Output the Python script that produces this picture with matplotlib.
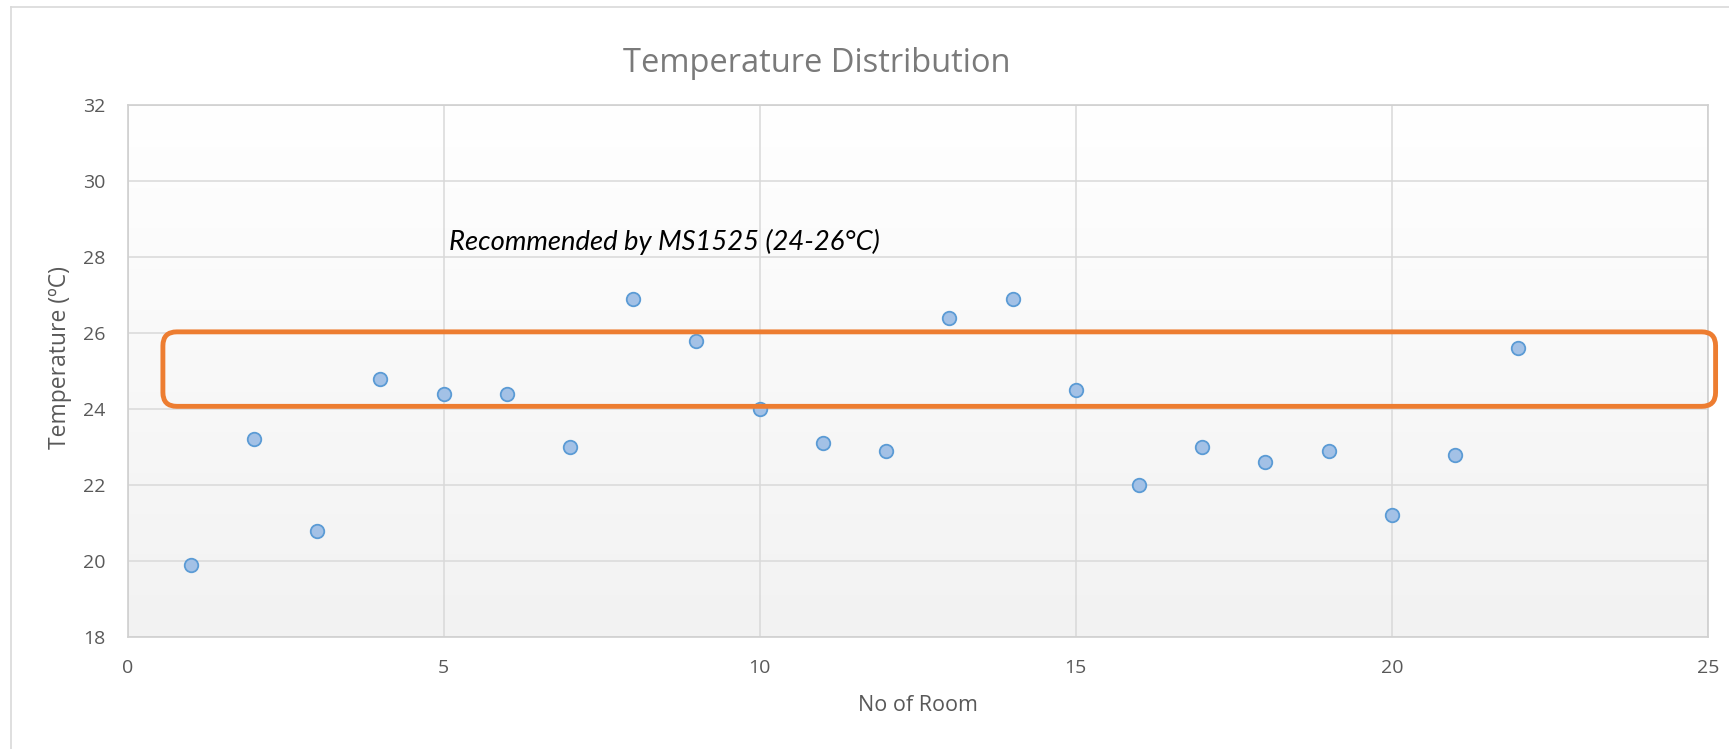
import numpy as np
import matplotlib
matplotlib.use("Agg")
import matplotlib.pyplot as plt
from matplotlib.colors import LinearSegmentedColormap
from matplotlib.patches import FancyBboxPatch
from matplotlib.lines import Line2D

# data
rooms = [1, 2, 3, 4, 5, 6, 7, 8, 9, 10, 11, 12, 13, 14, 15, 16, 17, 18, 19, 20, 21, 22]
temps = [19.9, 23.2, 20.8, 24.8, 24.4, 24.4, 23.0, 26.9, 25.8, 24.0, 23.1,
         22.9, 26.4, 26.9, 24.5, 22.0, 23.0, 22.6, 22.9, 21.2, 22.8, 25.6]
band_low, band_high = 24.07, 26.03
x_ticks = [0, 5, 10, 15, 20, 25]
y_ticks = [18, 20, 22, 24, 26, 28, 30, 32]

plt.rcParams['font.family'] = ['Open Sans', 'DejaVu Sans']

W, H = 1729, 749
fig = plt.figure(figsize=(W / 100, H / 100), dpi=100)

# outer chart frame (only top/left visible in the crop)
fig.add_artist(Line2D([11 / W, 11 / W], [0, 1 - 7 / H], color='#d9d9d9', lw=1.2))
fig.add_artist(Line2D([11 / W, 1], [1 - 7 / H, 1 - 7 / H], color='#d9d9d9', lw=1.2))

left, right, top, bottom = 127.5, 1708, 105, 637
ax = fig.add_axes([left / W, 1 - bottom / H, (right - left) / W, (bottom - top) / H])

# background gradient white -> light grey
cmap = LinearSegmentedColormap.from_list('bg', ['#f2f2f2', '#ffffff'])
grad = np.linspace(0, 1, 256).reshape(-1, 1)
ax.imshow(grad, cmap=cmap, extent=[0, 25, 18, 32], aspect='auto', origin='lower', zorder=0)

ax.set_xlim(0, 25)
ax.set_ylim(18, 32)
ax.set_xticks(x_ticks)
ax.set_yticks(y_ticks)
ax.grid(True, color='#d9d9d9', lw=1.1)
ax.set_axisbelow(True)
for s in ax.spines.values():
    s.set_color('#d0d0d0')
    s.set_linewidth(1.2)
ax.tick_params(length=0, colors='#595959', labelsize=14, pad=16)

ax.scatter(rooms, temps, s=95, facecolor='#a3c1e6', edgecolor='#5b9bd5', linewidth=1.3, zorder=3)

# recommended band
box = FancyBboxPatch((0.56, band_low), 25.12 - 0.56, band_high - band_low,
                     boxstyle="round,pad=0,rounding_size=0.22", mutation_aspect=1.66,
                     fill=False, edgecolor='#ed7d31', lw=3.5, clip_on=False, zorder=4)
ax.add_patch(box)

ax.text(5.09, 28.18, 'Recommended by MS1525 (24-26°C)', style='italic', fontsize=19.7,
        family=['Lato', 'DejaVu Sans'], color='black', ha='left', va='baseline', zorder=5)

fig.text(817 / W, 1 - 63 / H, 'Temperature Distribution', fontsize=23.5, color='#7a7a7a',
         ha='center', va='center')
ax.set_xlabel('No of Room', fontsize=15.5, color='#595959', labelpad=13)
ax.set_ylabel('Temperature (ºC)', fontsize=16.5, color='#595959')
ax.yaxis.set_label_coords(-0.035, 0.525)

fig.savefig('out.png', dpi=100)
